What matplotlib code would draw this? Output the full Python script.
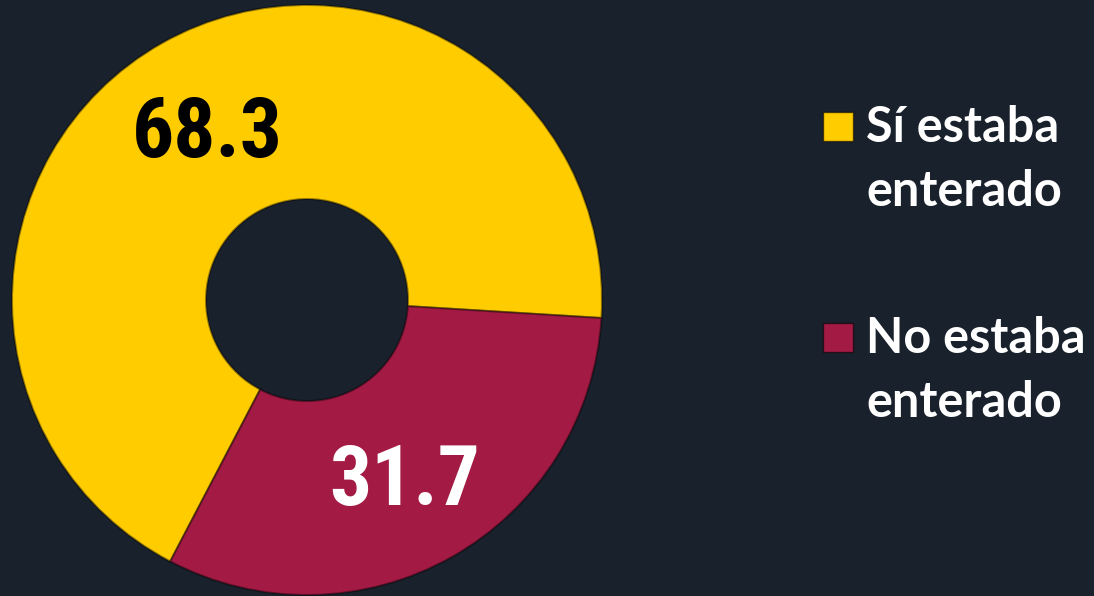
import matplotlib.pyplot as plt
from matplotlib.patches import Rectangle

# data
labels = ["Sí estaba", "No estaba"]
sublabel = "enterado"
values = [68.3, 31.7]
colors = ["#FFCC00", "#A31A44"]
text_colors = ["black", "white"]

bg = "#19212C"

fig = plt.figure(figsize=(10.94, 5.96), dpi=100, facecolor=bg)
ax = fig.add_axes([0, 0, 1, 1])
ax.set_facecolor(bg)

# the maroon slice starts a bit below 3 o'clock and runs clockwise
start = -3.5 + values[0] / 100 * 360
wedges, _ = ax.pie(values, colors=colors, startangle=start, counterclock=False,
                   center=(307, 296), radius=295,
                   wedgeprops=dict(width=194, edgecolor="#00000066", linewidth=1.5))

ax.set_xlim(0, 1094)
ax.set_ylim(0, 596)
ax.set_aspect("equal")
ax.axis("off")

# value labels
num_pos = [(207, 596 - 134), (405, 596 - 482)]
for i, v in enumerate(values):
    ax.text(num_pos[i][0], num_pos[i][1], f"{v:.1f}", color=text_colors[i], fontsize=60,
            fontweight="bold", family="Roboto Condensed", ha="center", va="center")

# legend, drawn by hand so the square sits next to the first line
leg_y = [454, 243]
for i, lab in enumerate(labels):
    ax.add_patch(Rectangle((823, leg_y[i] + 1), 30, 29, facecolor=colors[i],
                           edgecolor="#00000088", linewidth=1))
    ax.text(866, leg_y[i], lab, color="white", fontsize=35, fontweight="bold",
            family="Lato", va="baseline", ha="left")
    ax.text(866, leg_y[i] - 64, sublabel, color="white", fontsize=35, fontweight="bold",
            family="Lato", va="baseline", ha="left")

plt.savefig("out.png", dpi=100, facecolor=bg)
